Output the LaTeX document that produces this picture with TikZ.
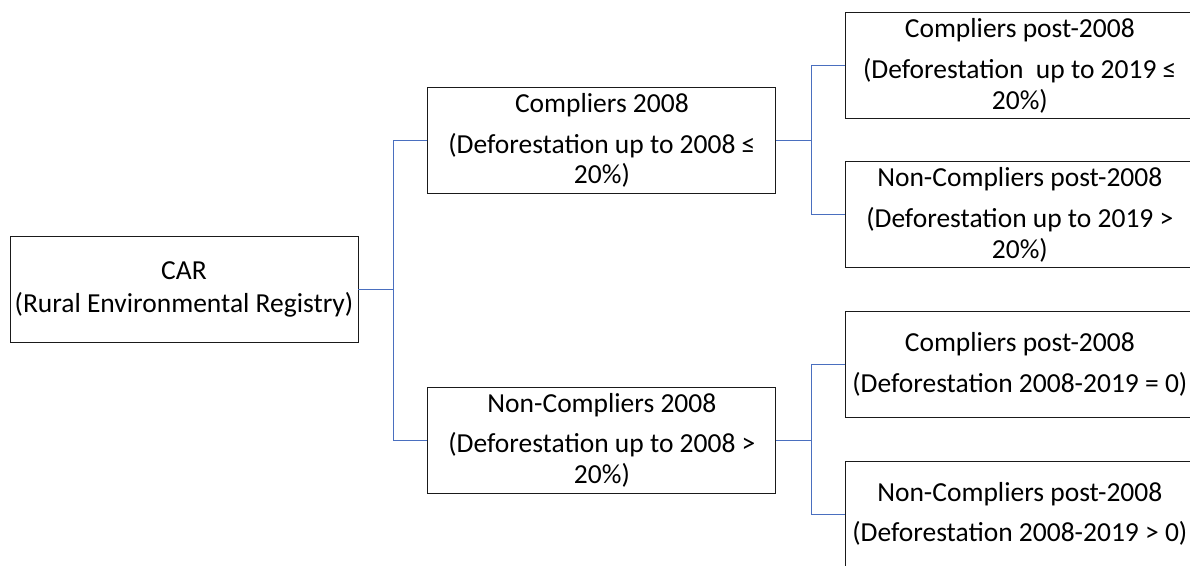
\documentclass[tikz,border=0pt]{standalone}
\usepackage{fontspec}
\setmainfont{Carlito}
\usepackage{tikz}
\usepackage{xcolor}
\usetikzlibrary{positioning}
\definecolor{TreeBlue}{HTML}{4A6FBF}
\definecolor{BoxLine}{HTML}{1A1A1A}

\begin{document}
\begin{tikzpicture}[
      x=1pt,y=-1pt,
      regnode/.style={
        draw=BoxLine,
        fill=white,
        line width=0.9pt,
        minimum width=348pt,
        minimum height=106pt,
        inner sep=2pt,
        align=center,
        font=\fontsize{27.5}{30.5}\selectfont
      },
      branch/.style={line width=0.9pt,color=TreeBlue}
    ]
      \useasboundingbox (0,0) rectangle (1190,565);
      \clip (0,0) rectangle (1190,565);
      \node[regnode] (car) at (184,289.5) {CAR\\[2pt](Rural Environmental Registry)};
      \node[regnode,right=69pt of car,yshift=149pt] (c08) {Compliers 2008\\[10pt](Deforestation up to 2008 ≤\\20\%)};
      \node[regnode,right=69pt of car,yshift=-150.5pt] (n08) {Non-Compliers 2008\\[10pt](Deforestation up to 2008 >\\20\%)};
      \node[regnode,right=69pt of c08,yshift=75pt] (cc) {Compliers post-2008\\[11pt](Deforestation~ up to 2019 ≤\\20\%)};
      \node[regnode,right=69pt of c08,yshift=-74pt] (cn) {Non-Compliers post-2008\\[11pt](Deforestation up to 2019 >\\20\%)};
      \node[regnode,right=69pt of n08,yshift=75.5pt] (nc) {Compliers post-2008\\[10pt](Deforestation 2008-2019 = 0)};
      \node[regnode,right=69pt of n08,yshift=-74pt] (nn) {Non-Compliers post-2008\\[10pt](Deforestation 2008-2019 > 0)};
      \draw[branch] (car.east) -- ++(35,0) coordinate (j0);
      \draw[branch] (c08.west) -| (j0) |- (n08.west);
      \draw[branch] (c08.east) -- ++(35,0) coordinate (j1);
      \draw[branch] (cc.west) -| (j1) |- (cn.west);
      \draw[branch] (n08.east) -- ++(35,0) coordinate (j2);
      \draw[branch] (nc.west) -| (j2) |- (nn.west);
    \end{tikzpicture}
\end{document}
